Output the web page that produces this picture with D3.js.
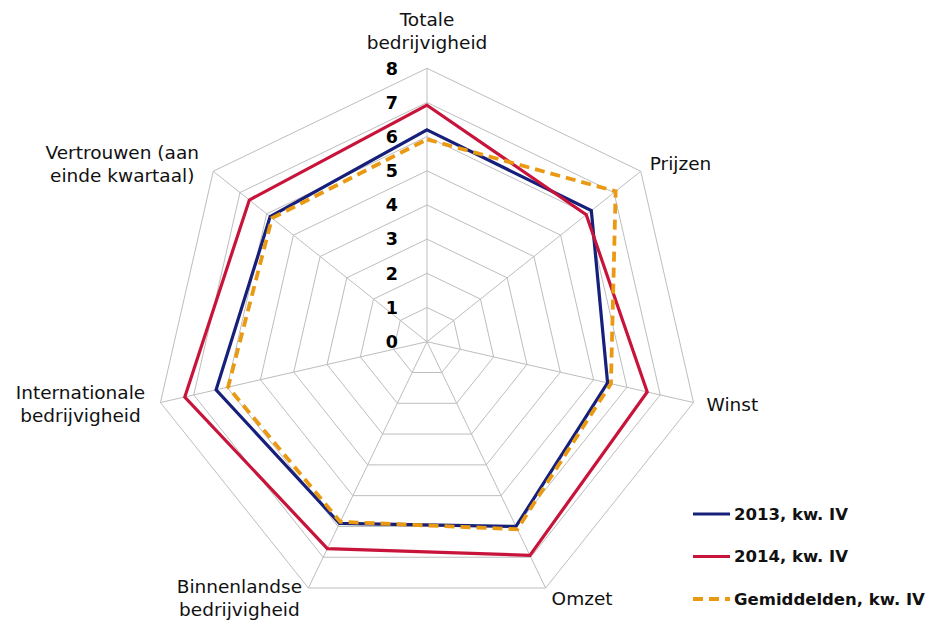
<!DOCTYPE html>
<html>
<head>
<meta charset="utf-8">
<script src="https://cdn.jsdelivr.net/npm/d3@7"></script>
<style>
  body { margin: 0; background: #fff; }
  svg { display: block; }
</style>
</head>
<body>
<svg width="932" height="621"></svg>
<script>
// axes, clockwise from the top
const categories = ["Totale bedrijvigheid", "Prijzen", "Winst", "Omzet",
  "Binnenlandse bedrijvigheid", "Internationale bedrijvigheid", "Vertrouwen (aan einde kwartaal)"];
const labelLines = [["Totale", "bedrijvigheid"], ["Prijzen"], ["Winst"], ["Omzet"],
  ["Binnenlandse", "bedrijvigheid"], ["Internationale", "bedrijvigheid"], ["Vertrouwen (aan", "einde kwartaal)"]];

const values2013 = [6.2, 6.15, 5.42, 6.0, 5.9, 6.33, 5.87];
const values2014 = [6.92, 5.96, 6.61, 6.94, 6.72, 7.27, 6.65];
const valuesAvg  = [5.92, 7.06, 5.52, 6.09, 5.85, 5.97, 5.8];

const seriesNames = ["2013, kw. IV", "2014, kw. IV", "Gemiddelden, kw. IV"];
const ticks = [0, 1, 2, 3, 4, 5, 6, 7, 8];

const series = [
  {name: seriesNames[0], values: values2013, color: "#16207a", dash: null, w: 3.2},
  {name: seriesNames[1], values: values2014, color: "#c8143a", dash: null, w: 3.2},
  {name: seriesNames[2], values: valuesAvg,  color: "#ea9a12", dash: "10,6", w: 3.8}
];

const svg = d3.select("svg");
const cx = 427, cy = 341.7, R = 273.4;

const r = d3.scaleLinear().domain([0, 8]).range([0, R]);
const angle = d3.scaleLinear().domain([0, categories.length]).range([0, 2 * Math.PI]);

const pt = (i, v) => [cx + r(v) * Math.sin(angle(i)), cy - r(v) * Math.cos(angle(i))];

const g = svg.append("g");

// rings
ticks.slice(1).forEach(t => {
  g.append("polygon")
    .attr("points", categories.map((c, i) => pt(i, t).join(",")).join(" "))
    .attr("fill", "none")
    .attr("stroke", "#bdbdbd")
    .attr("stroke-width", 1);
});

// spokes
categories.forEach((c, i) => {
  const p = pt(i, 8);
  g.append("line")
    .attr("x1", cx).attr("y1", cy)
    .attr("x2", p[0]).attr("y2", p[1])
    .attr("stroke", "#bdbdbd")
    .attr("stroke-width", 1);
});

// series
const line = d3.line().curve(d3.curveLinearClosed);
series.forEach(s => {
  g.append("path")
    .attr("d", line(s.values.map((v, i) => pt(i, v))))
    .attr("fill", "none")
    .attr("stroke", s.color)
    .attr("stroke-width", s.w)
    .attr("stroke-linejoin", "miter")
    .attr("stroke-dasharray", s.dash);
});

// tick labels
ticks.forEach(t => {
  g.append("text")
    .attr("x", cx - 29)
    .attr("y", cy - r(t))
    .attr("dy", "0.36em")
    .attr("text-anchor", "end")
    .attr("font-family", "DejaVu Sans, Verdana, sans-serif")
    .attr("font-weight", "bold")
    .attr("font-size", "17.5px")
    .text(t);
});

// category labels, offsets from each outer vertex
const labelPos = [
  {dx: 0, dy: -42, anchor: "middle"},
  {dx: 9, dy: -1, anchor: "start"},
  {dx: 13, dy: 8, anchor: "start"},
  {dx: 6, dy: 17, anchor: "start"},
  {dx: -69, dy: 5, anchor: "middle"},
  {dx: -80, dy: -4, anchor: "middle"},
  {dx: -91, dy: -12, anchor: "middle"}
];
categories.forEach((c, i) => {
  const p = pt(i, 8);
  const t = g.append("text")
    .attr("text-anchor", labelPos[i].anchor)
    .attr("font-family", "DejaVu Sans, Verdana, sans-serif")
    .attr("font-size", "18.5px")
    .attr("fill", "#111");
  labelLines[i].forEach((l, k) => {
    t.append("tspan")
      .attr("x", p[0] + labelPos[i].dx)
      .attr("y", p[1] + labelPos[i].dy + k * 23)
      .text(l);
  });
});

// legend
const legend = svg.append("g").attr("transform", "translate(693,514)");
series.forEach((s, i) => {
  const y = i * 42.5;
  legend.append("line")
    .attr("x1", 0).attr("x2", 37)
    .attr("y1", y).attr("y2", y)
    .attr("stroke", s.color)
    .attr("stroke-width", s.w)
    .attr("stroke-dasharray", s.dash);
  legend.append("text")
    .attr("x", 41)
    .attr("y", y)
    .attr("dy", "0.36em")
    .attr("font-family", "DejaVu Sans, Verdana, sans-serif")
    .attr("font-weight", "bold")
    .attr("font-size", "16.5px")
    .attr("fill", "#111")
    .text(s.name);
});
</script>
</body>
</html>
